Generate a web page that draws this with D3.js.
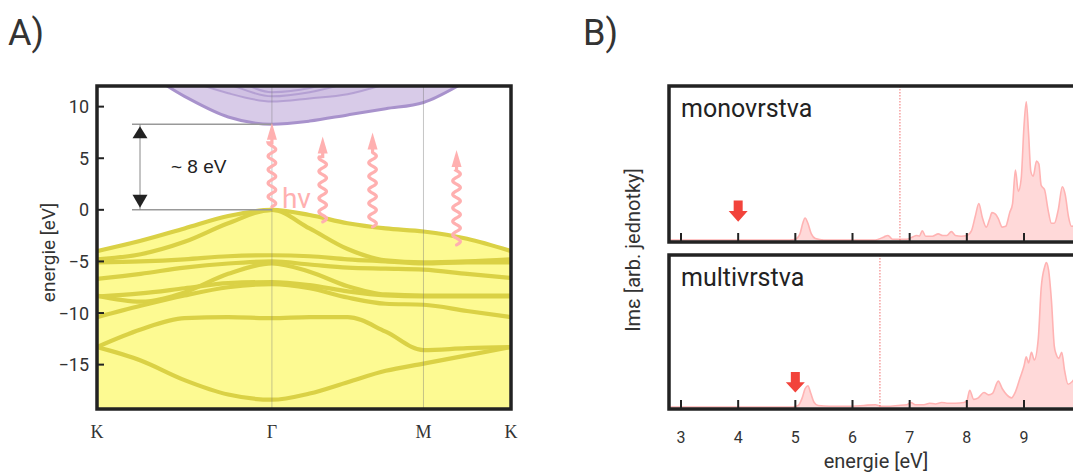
<!DOCTYPE html>
<html><head><meta charset="utf-8">
<script src="https://cdn.jsdelivr.net/npm/d3@7/dist/d3.min.js"></script>
<style>
body{margin:0;background:#fff}
svg{display:block}
</style>
</head><body>
<svg id="c" width="1073" height="472" font-family="Roboto, 'Noto Sans', sans-serif"></svg>
<script>
// ---------- Panel A data ----------
const kPoints = [0, 0.333, 0.667, 1.0, 1.333, 1.62, 1.91, 2.2, 2.488, 2.82, 3.155];
const kLabels = ["K", "Γ", "M", "K"];
const kLabelPos = [0, 1.333, 2.488, 3.155];
const energyTicks = [10, 5, 0, -5, -10, -15];

const vb1 = [-4.0, -3.0, -1.8, -0.6, 0.0, -0.5, -1.3, -1.8, -2.1, -2.8, -4.0];
const vb2 = [-4.8, -4.3, -3.1, -1.3, 0.0, -1.8, -3.8, -4.9, -5.1, -5.0, -4.8];
const vb3 = [-5.1, -5.0, -4.8, -4.5, -4.4, -4.5, -4.8, -5.0, -5.2, -5.1, -5.1];
const vb4 = [-6.7, -6.2, -5.6, -5.2, -5.0, -5.3, -5.6, -5.7, -5.8, -6.2, -6.6];
const vb5 = [-8.3, -8.9, -8.0, -6.2, -5.2, -6.0, -7.4, -8.2, -8.3, -8.3, -8.3];
const vb6 = [-8.4, -8.1, -7.6, -7.1, -7.0, -7.3, -7.9, -8.3, -8.4, -8.4, -8.4];
const vb7 = [-10.4, -9.3, -8.3, -7.5, -7.2, -7.6, -8.5, -9.1, -9.2, -9.8, -10.4];
const vb8 = [-13.3, -11.6, -10.5, -10.4, -10.5, -10.4, -10.4, -11.8, -13.6, -13.4, -13.3];
const vb9 = [-13.3, -14.6, -16.5, -17.9, -18.4, -17.8, -16.7, -15.6, -14.9, -14.1, -13.3];
const valenceBands = [vb1, vb2, vb3, vb4, vb5, vb6, vb7, vb8, vb9];

const cb1 = [15.0, 13.5, 11.0, 9.0, 8.3, 8.6, 9.2, 9.8, 10.4, 12.5, 15.0];
const cb2 = [18.0, 15.5, 12.8, 11.3, 10.5, 10.8, 11.2, 12.2, 13.5, 15.0, 18.0];
const cb3 = [19.0, 16.5, 13.8, 12.2, 11.0, 11.4, 12.3, 13.5, 14.5, 16.0, 19.0];
const cb4 = [20.0, 17.5, 14.8, 13.0, 11.4, 11.8, 13.0, 14.5, 15.5, 17.0, 20.0];
const conductionBands = [cb1, cb2, cb3, cb4];

const gapEnergy = 8.3;
const photonK = [1.333, 1.72, 2.10, 2.74];
const photonFrom = [0.3, -1.17, -1.65, -3.4];
const photonTo = [8.45, 7.1, 7.5, 5.8];

// ---------- Panel B data ----------
const specTicks = [3, 4, 5, 6, 7, 8, 9, 10];
const specTickLabels = [3, 4, 5, 6, 7, 8, 9];
const monoE = [2.8,4.9,5.0,5.08,5.13,5.17,5.22,5.28,5.35,5.5,6.4,6.55,6.62,6.7,6.95,7.05,7.12,7.17,7.22,7.28,7.4,7.5,7.58,7.65,7.73,7.8,7.9,8.0,8.08,8.15,8.21,8.27,8.34,8.4,8.44,8.5,8.55,8.62,8.68,8.75,8.8,8.85,8.9,8.95,9.0,9.04,9.08,9.12,9.16,9.22,9.26,9.3,9.36,9.42,9.48,9.53,9.6,9.67,9.72,9.78,9.83,9.9,10.0,10.1];
const monoI = [0,0,0.5,4,11,14.5,11,4,1,0,0,2,3,0.5,0.5,2,3,2.5,6,2.5,2.5,4,3,3,5.5,3,2.5,3,6,16,24,15,8.5,14,18,17,14,8.5,9,18,24,46,32,40,75,91,70,45,42,52,50,36,33,20,11,11,20,35,30,15,9,10,18,15];
const multiE = [2.8,4.95,5.05,5.12,5.17,5.22,5.27,5.33,5.4,5.6,6.0,6.2,6.4,6.5,6.6,6.8,6.95,7.02,7.1,7.25,7.35,7.45,7.56,7.65,7.8,7.95,8.0,8.05,8.12,8.2,8.3,8.38,8.45,8.55,8.62,8.7,8.78,8.85,8.93,9.0,9.04,9.08,9.13,9.18,9.25,9.3,9.36,9.39,9.43,9.48,9.53,9.56,9.61,9.66,9.71,9.77,9.85,9.95,10.1];
const multiI = [0,0,1,6,12,14,9,3,1,0.5,0.5,1,1.5,0.5,0.5,1,1.5,3,1.5,1.5,2.5,2,3,2.5,2.5,3,4,11,5,6,9.5,8,9,17,12,8,6,10,19,27,33,29,36,31,45,78,92,95,90,70,40,35,32,36,24,15,17,22,20];
const panelNames = ["monovrstva", "multivrstva"];
const onsetE = [6.83, 6.48];
const markerE = [4.0, 5.0];
const markerTop = [26, 23];
const markerTip = [12, 9.5];

// ---------- drawing ----------
const svg = d3.select("#c");
const ink = "#222", txt = "#333";
const serif = "'Liberation Serif', 'Times New Roman', serif";
const arial = "'Liberation Sans', Arial, sans-serif";

// Panel labels
svg.append("text").attr("x", 8).attr("y", 45).attr("font-size", 36).attr("fill", txt).text("A)");
svg.append("text").attr("x", 583).attr("y", 45).attr("font-size", 36).attr("fill", txt).text("B)");

// ===== Panel A =====
const A = {l: 97, r: 511, t: 86, b: 409};
const xA = d3.scaleLinear().domain([0, 3.155]).range([A.l, A.r]);
const yA = d3.scaleLinear().domain([-19.3, 12]).range([A.b, A.t]);

const defs = svg.append("defs");
defs.append("clipPath").attr("id", "clipA").append("rect")
  .attr("x", A.l).attr("y", A.t).attr("width", A.r - A.l).attr("height", A.b - A.t);

const gA = svg.append("g").attr("clip-path", "url(#clipA)");
const idx = d3.range(kPoints.length);
const bandLine = arr => d3.line().x(i => xA(kPoints[i])).y(i => yA(arr[i])).curve(d3.curveMonotoneX)(idx);

gA.append("path")
  .attr("d", d3.area().x(i => xA(kPoints[i])).y0(yA(-19.3)).y1(i => yA(vb1[i])).curve(d3.curveMonotoneX)(idx))
  .attr("fill", "#fdfa92");
gA.append("path")
  .attr("d", d3.area().x(i => xA(kPoints[i])).y0(yA(12)).y1(i => yA(cb1[i])).curve(d3.curveMonotoneX)(idx))
  .attr("fill", "#d8cbe8");
gA.append("path")
  .attr("d", d3.area().x(i => xA(kPoints[i])).y0(yA(12)).y1(i => yA(cb2[i])).curve(d3.curveMonotoneX)(idx))
  .attr("fill", "#cbbbe0").attr("opacity", 0.6);

valenceBands.forEach(b => gA.append("path").attr("d", bandLine(b))
  .attr("fill", "none").attr("stroke", "#dad145").attr("stroke-width", 4.2));
conductionBands.forEach((b, j) => gA.append("path").attr("d", bandLine(b))
  .attr("fill", "none").attr("stroke", "#a892cc").attr("stroke-width", j === 0 ? 3 : 2).attr("stroke-opacity", j === 0 ? 1 : 0.7));

[1.333, 2.488].forEach(k => gA.append("line")
  .attr("x1", xA(k)).attr("x2", xA(k)).attr("y1", A.t).attr("y2", A.b)
  .attr("stroke", "#777").attr("stroke-width", 0.7).attr("stroke-opacity", 0.6));

// gap annotation
const gapX0 = A.l + 35, arrX = A.l + 43;
[0, gapEnergy].forEach(e => svg.append("line")
  .attr("x1", gapX0).attr("x2", xA(1.333)).attr("y1", yA(e)).attr("y2", yA(e))
  .attr("stroke", "#999").attr("stroke-width", 1.5));
svg.append("line").attr("x1", arrX).attr("x2", arrX).attr("y1", yA(gapEnergy)).attr("y2", yA(0))
  .attr("stroke", "#888").attr("stroke-width", 1);
const ty = yA(gapEnergy), by = yA(0);
svg.append("path").attr("d", `M${arrX},${ty + 2}L${arrX - 7.5},${ty + 14}L${arrX + 7.5},${ty + 14}Z`).attr("fill", ink);
svg.append("path").attr("d", `M${arrX},${by - 2}L${arrX - 7.5},${by - 15}L${arrX + 7.5},${by - 15}Z`).attr("fill", ink);
svg.append("text").attr("x", 171).attr("y", yA(gapEnergy / 2) + 6).attr("font-size", 19)
  .attr("fill", ink).attr("font-family", arial).text("~ 8 eV");

// photon arrows
const pink = "#ffb0b0";
photonK.forEach((k, i) => {
  const x = xA(k), y0 = yA(photonFrom[i]), y1 = yA(photonTo[i]);
  const head = 17, yw = y1 + head + 3;
  const pts = [];
  for (let y = y0; y >= yw; y -= 0.5) pts.push([x + 3.8 * Math.sin(2 * Math.PI * (y0 - y) / 13.5), y]);
  pts.push([x, yw]); pts.push([x, y1 + head - 1]);
  svg.append("path").attr("d", d3.line()(pts)).attr("fill", "none")
    .attr("stroke", pink).attr("stroke-width", 3.2).attr("stroke-linecap", "round");
  svg.append("path").attr("d", `M${x},${y1}L${x - 5},${y1 + head}L${x + 5},${y1 + head}Z`).attr("fill", pink);
});
svg.append("text").attr("x", xA(1.333) + 10).attr("y", yA(0) - 2).attr("font-size", 28)
  .attr("fill", pink).text("hν");

// frame A
svg.append("rect").attr("x", A.l).attr("y", A.t).attr("width", A.r - A.l).attr("height", A.b - A.t)
  .attr("fill", "none").attr("stroke", ink).attr("stroke-width", 3.5);
energyTicks.forEach(e => {
  svg.append("line").attr("x1", A.l).attr("x2", A.l + 7).attr("y1", yA(e)).attr("y2", yA(e))
    .attr("stroke", ink).attr("stroke-width", 2);
  svg.append("text").attr("x", A.l - 8).attr("y", yA(e) + 6.5).attr("text-anchor", "end")
    .attr("font-size", 18).attr("fill", txt).text(d3.format("")(e));
});
svg.append("text").attr("transform", `translate(55,${(A.t + A.b) / 2 + 5}) rotate(-90)`)
  .attr("text-anchor", "middle").attr("font-size", 19).attr("fill", txt).text("energie [eV]");
kLabels.forEach((l, i) => svg.append("text").attr("x", xA(kLabelPos[i])).attr("y", 438)
  .attr("text-anchor", "middle").attr("font-size", 18).attr("fill", txt)
  .attr("font-family", serif).text(l));

// ===== Panel B =====
const xB = d3.scaleLinear().domain([3, 9]).range([681, 1024]);
const bL = 669, bR = 1090;
const panels = [{t: 86, b: 242, E: monoE, I: monoI}, {t: 255, b: 409, E: multiE, I: multiI}];
panels.forEach((p, pi) => {
  const y = d3.scaleLinear().domain([0, 100]).range([p.b - 2, p.b - 2 - 152]);
  const cid = "clipB" + pi;
  defs.append("clipPath").attr("id", cid).append("rect")
    .attr("x", bL).attr("y", p.t).attr("width", bR - bL).attr("height", p.b - p.t);
  const g = svg.append("g").attr("clip-path", `url(#${cid})`);
  const ii = d3.range(p.E.length);
  g.append("path").attr("d", d3.area().x(i => xB(p.E[i])).y0(y(0)).y1(i => y(p.I[i])).curve(d3.curveMonotoneX)(ii))
    .attr("fill", "#ffd9d9");
  g.append("path").attr("d", d3.line().x(i => xB(p.E[i])).y(i => y(p.I[i])).curve(d3.curveMonotoneX)(ii))
    .attr("fill", "none").attr("stroke", "#ffb3b3").attr("stroke-width", 1.6);
  g.append("line").attr("x1", xB(onsetE[pi])).attr("x2", xB(onsetE[pi])).attr("y1", p.t).attr("y2", p.b)
    .attr("stroke", "#f07070").attr("stroke-width", 1).attr("stroke-dasharray", "1.5,1.5");
  const mx = xB(markerE[pi]), yt = y(markerTop[pi]), yp = y(markerTip[pi]);
  const hh = (yp - yt) * 0.5;
  g.append("path").attr("d", `M${mx - 4.5},${yt}L${mx + 4.5},${yt}L${mx + 4.5},${yp - hh}L${mx + 9.5},${yp - hh}L${mx},${yp}L${mx - 9.5},${yp - hh}L${mx - 4.5},${yp - hh}Z`)
    .attr("fill", "#f2433b");
  svg.append("rect").attr("x", bL).attr("y", p.t).attr("width", bR - bL).attr("height", p.b - p.t)
    .attr("fill", "none").attr("stroke", ink).attr("stroke-width", 3.5);
  specTicks.forEach(e => svg.append("line").attr("x1", xB(e)).attr("x2", xB(e))
    .attr("y1", p.b).attr("y2", p.b - 9).attr("stroke", ink).attr("stroke-width", 2));
  svg.append("text").attr("x", bL + 12).attr("y", p.t + 31).attr("font-size", 25).attr("fill", ink).text(panelNames[pi]);
});
specTickLabels.forEach(e => svg.append("text").attr("x", xB(e)).attr("y", 443).attr("text-anchor", "middle")
  .attr("font-size", 16).attr("fill", txt).text(e));
svg.append("text").attr("x", 876).attr("y", 468).attr("text-anchor", "middle").attr("font-size", 20)
  .attr("fill", txt).text("energie [eV]");
svg.append("text").attr("transform", `translate(640,250) rotate(-90)`).attr("text-anchor", "middle")
  .attr("font-size", 20).attr("fill", txt).text("Imε [arb. jednotky]");
</script>
</body></html>
